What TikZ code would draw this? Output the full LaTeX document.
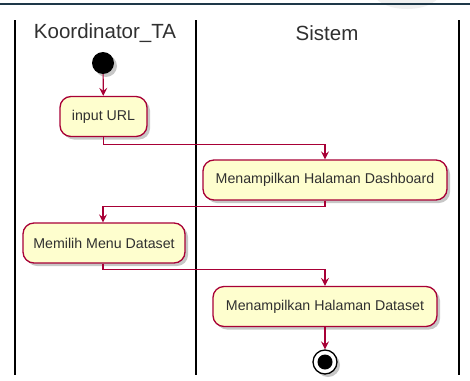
\documentclass[tikz,border=0pt]{standalone}
\usepackage{fontspec}
\setmainfont{Liberation Sans}
\usetikzlibrary{arrows.meta,shadows,positioning}
\definecolor{umlborder}{HTML}{A80036}
\definecolor{umlfill}{HTML}{FEFECE}
\definecolor{umltext}{HTML}{303030}
\definecolor{topbar}{HTML}{1E3848}
\tikzset{
  lane/.style={line width=1.8pt, black},
  lanetitle/.style={text=umltext, font=\fontsize{20.5}{24}\selectfont, inner sep=0pt},
  action/.style={rectangle, rounded corners=11pt, draw=umlborder, line width=1.3pt,
    fill=umlfill, text=umltext, minimum height=40pt, inner xsep=10pt,
    font=\fontsize{14.2}{17}\selectfont,
    drop shadow={shadow xshift=3pt, shadow yshift=-3pt, opacity=0.22, fill=black}},
  startdot/.style={circle, fill=black, minimum size=22pt, inner sep=0pt,
    drop shadow={shadow xshift=3pt, shadow yshift=-3pt, opacity=0.22, fill=black}},
  enddot/.style={circle, draw=black, line width=1.3pt, fill=white, minimum size=24pt, inner sep=0pt,
    drop shadow={shadow xshift=3pt, shadow yshift=-3pt, opacity=0.22, fill=black}},
  flow/.style={draw=umlborder, line width=1.2pt,
    -{Stealth[length=8pt, width=8pt, inset=3pt]}},
}
\begin{document}
\begin{tikzpicture}[x=1pt, y=-1pt]
  \useasboundingbox (0,0) rectangle (470,380);
  \fill[white] (0,0) rectangle (470,380);
  % window chrome at the top
  \begin{scope}
    \clip (0,0) rectangle (470,10);
    \fill[gray!12] (407,-9) ellipse (34 and 18);
  \end{scope}
  \draw[topbar, line width=1.3pt] (0,4) -- (470,4);

  % swimlane separators
  \coordinate (l0t) at (15,20);  \coordinate (l0b) at (15,375);
  \coordinate (l1t) at (196,20); \coordinate (l1b) at (196,375);
  \coordinate (l2t) at (459,20); \coordinate (l2b) at (459,375);
  \draw[lane] (l0t) -- (l0b);
  \draw[lane] (l1t) -- (l1b);
  \draw[lane] (l2t) -- (l2b);

  % lane titles
  \node[lanetitle] (koor) at (105,33) {Koordinator\_TA};
  \node[lanetitle] (sis) at (327,33) {Sistem};

  % activities
  \node[startdot] (start) at (103,63) {};
  \node[action, minimum width=87pt] (url) at (103.5,116.5) {input URL};
  \node[action, minimum width=244pt] (dash) at (325,180) {Menampilkan Halaman Dashboard};
  \node[action, minimum width=162pt] (menu) at (104,243) {Memilih Menu Dataset};
  \node[action, minimum width=224pt] (data) at (325,306.5) {Menampilkan Halaman Dataset};
  \node[enddot] (stop) at (325,362) {};
  \fill[black] (stop) circle (7.5pt);

  % control flow
  \draw[flow] (start) -- (url);
  \draw[flow] (url.south) -- ++(0,7) -| (dash.north);
  \draw[flow] (dash.south) -- ++(0,6) -| ([xshift=-1pt]menu.north);
  \draw[flow] ([xshift=-1pt]menu.south) -- ++(0,6) -| (data.north);
  \draw[flow] (data) -- (stop);
\end{tikzpicture}
\end{document}
